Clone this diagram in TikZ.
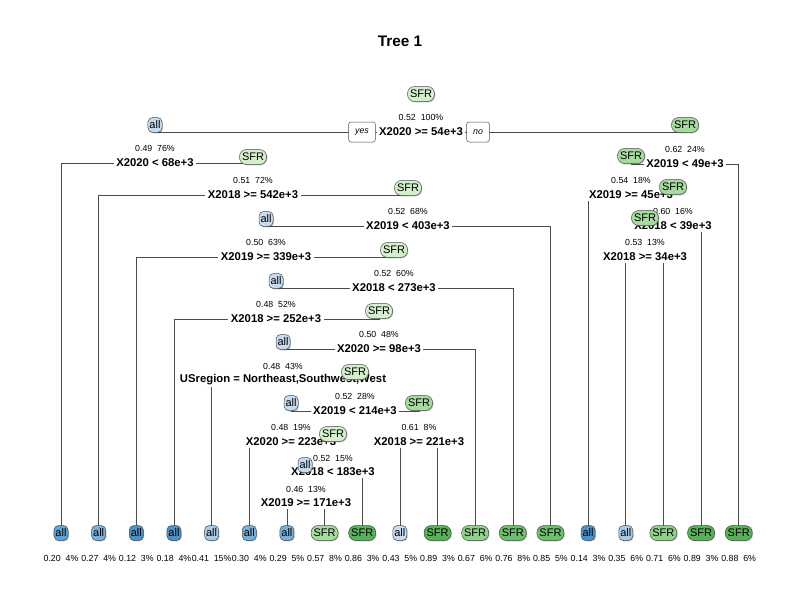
\documentclass[tikz,border=0pt]{standalone}
\usepackage{fontspec}
\setmainfont{Liberation Sans}
\usetikzlibrary{backgrounds,shadows}
\definecolor{bu1}{HTML}{C6DBEF}
\definecolor{bu2}{HTML}{A6CBE8}
\definecolor{bu3}{HTML}{75B1DC}
\definecolor{bu4}{HTML}{5FA3D4}
\definecolor{bu5}{HTML}{4A92C8}
\definecolor{gn1}{HTML}{D4EFCC}
\definecolor{gn2}{HTML}{A5DB9D}
\definecolor{gn3}{HTML}{8FD18A}
\definecolor{gn4}{HTML}{6DC06A}
\definecolor{gn5}{HTML}{55B355}
\begin{document}
\begin{tikzpicture}[x=1pt, y=-1pt,
    nodebox/.style={draw=black!70, line width=0.5pt, inner sep=1.5pt, minimum height=15pt,
      font=\fontsize{11}{11}\selectfont,
      drop shadow={shadow xshift=0.8pt, shadow yshift=-0.8pt, fill=black, opacity=0.25}},
    allbox/.style={nodebox, rounded corners=4.5pt, minimum width=14pt},
    sfrbox/.style={nodebox, rounded corners=7pt, minimum width=27pt},
    splitlab/.style={fill=white, inner xsep=2.5pt, inner ysep=2pt, font=\bfseries\fontsize{11.3}{12}\selectfont},
    infolab/.style={inner sep=1pt, font=\fontsize{8.8}{9}\selectfont},
    yesno/.style={draw=black!70, fill=white, line width=0.5pt, rounded corners=2.5pt,
      minimum height=20pt, inner xsep=6.5pt, font=\itshape\fontsize{8.8}{9}\selectfont},
    branch/.style={draw=black!70, line width=0.6pt}]
\useasboundingbox (0,0) rectangle (800,600);
\node[font=\bfseries\fontsize{15.3}{16}\selectfont] (title) at (400,41) {Tree 1};
% root
\node[splitlab] (Rs) at (421,132) {X2020 >= 54e+3};
\node[infolab] (Ri) at (421,117) {0.52\ \ 100\%};
\node[sfrbox, fill=gn1] (R) at (421,94) {SFR};
\node[yesno] (yes) at (362,132) {yes};
\node[yesno] (no) at (478,132) {no};
% left side
\node[splitlab] (As) at (155,163) {X2020 < 68e+3};
\node[infolab] (Ai) at (155,148) {0.49\ \ 76\%};
\node[allbox, fill=bu1] (A) at (155,125) {all};
\node[splitlab] (Bs) at (253,195) {X2018 >= 542e+3};
\node[infolab] (Bi) at (253,180) {0.51\ \ 72\%};
\node[sfrbox, fill=gn1] (B) at (253,157) {SFR};
\node[splitlab] (Cs) at (408,226) {X2019 < 403e+3};
\node[infolab] (Ci) at (408,211) {0.52\ \ 68\%};
\node[sfrbox, fill=gn1] (C) at (408,188) {SFR};
\node[splitlab] (Ds) at (266,257) {X2019 >= 339e+3};
\node[infolab] (Di) at (266,242) {0.50\ \ 63\%};
\node[allbox, fill=bu1] (D) at (266,219) {all};
\node[splitlab] (Es) at (394,288) {X2018 < 273e+3};
\node[infolab] (Ei) at (394,273) {0.52\ \ 60\%};
\node[sfrbox, fill=gn1] (E) at (394,250) {SFR};
\node[splitlab] (Fs) at (276,319) {X2018 >= 252e+3};
\node[infolab] (Fi) at (276,304) {0.48\ \ 52\%};
\node[allbox, fill=bu1] (F) at (276,281) {all};
\node[splitlab] (Gs) at (379,349) {X2020 >= 98e+3};
\node[infolab] (Gi) at (379,334) {0.50\ \ 48\%};
\node[sfrbox, fill=gn1] (G) at (379,311) {SFR};
\node[splitlab] (Hs) at (283,380) {USregion = Northeast,Southwest,West};
\node[infolab] (Hi) at (283,366) {0.48\ \ 43\%};
\node[allbox, fill=bu1] (H) at (283,342) {all};
\node[splitlab] (Is) at (355,411) {X2019 < 214e+3};
\node[infolab] (Ii) at (355,396) {0.52\ \ 28\%};
\node[sfrbox, fill=gn1] (I) at (355,372) {SFR};
\node[splitlab] (Ks) at (291,442) {X2020 >= 223e+3};
\node[infolab] (Ki) at (291,427) {0.48\ \ 19\%};
\node[allbox, fill=bu1] (K) at (291,403) {all};
\node[splitlab] (Ls) at (333,472) {X2018 < 183e+3};
\node[infolab] (Li) at (333,458) {0.52\ \ 15\%};
\node[sfrbox, fill=gn1] (L) at (333,434) {SFR};
\node[splitlab] (Ms) at (306,503) {X2019 >= 171e+3};
\node[infolab] (Mi) at (306,489) {0.46\ \ 13\%};
\node[allbox, fill=bu1] (M) at (305,465) {all};
\node[splitlab] (Js) at (419,442) {X2018 >= 221e+3};
\node[infolab] (Ji) at (419,427) {0.61\ \ 8\%};
\node[sfrbox, fill=gn2] (J) at (419,403) {SFR};
% right side
\node[splitlab] (Ns) at (685,164) {X2019 < 49e+3};
\node[infolab] (Ni) at (685,149) {0.62\ \ 24\%};
\node[sfrbox, fill=gn2] (N) at (685,125) {SFR};
\node[splitlab] (Os) at (631,195) {X2019 >= 45e+3};
\node[infolab] (Oi) at (631,180) {0.54\ \ 18\%};
\node[sfrbox, fill=gn2] (O) at (631,156) {SFR};
\node[splitlab] (Ps) at (673,226) {X2018 < 39e+3};
\node[infolab] (Pi) at (673,211) {0.60\ \ 16\%};
\node[sfrbox, fill=gn2] (P) at (673,187) {SFR};
\node[splitlab] (Qs) at (645,257) {X2018 >= 34e+3};
\node[infolab] (Qi) at (645,242) {0.53\ \ 13\%};
\node[sfrbox, fill=gn2] (Q) at (645,218) {SFR};
% leaves
\foreach \i/\f/\lab in {0/bu4/0.20\ \ 4\%, 1/bu3/0.27\ \ 4\%, 2/bu5/0.12\ \ 3\%,
    3/bu5/0.18\ \ 4\%, 4/bu2/0.41\ \ 15\%, 5/bu3/0.30\ \ 4\%, 6/bu3/0.29\ \ 5\%,
    9/bu1/0.43\ \ 5\%, 14/bu5/0.14\ \ 3\%, 15/bu2/0.35\ \ 6\%} {
  \node[allbox, fill=\f] (l\i) at ({61+37.65*\i},533) {all};
  \node[infolab] (p\i) at ({61+37.65*\i},558) {\lab};
}
\foreach \i/\f/\lab in {7/gn2/0.57\ \ 8\%, 8/gn5/0.86\ \ 3\%, 10/gn5/0.89\ \ 3\%,
    11/gn3/0.67\ \ 6\%, 12/gn4/0.76\ \ 8\%, 13/gn4/0.85\ \ 5\%, 16/gn3/0.71\ \ 6\%,
    17/gn5/0.89\ \ 3\%, 18/gn5/0.88\ \ 6\%} {
  \node[sfrbox, fill=\f] (l\i) at ({61+37.65*\i},533) {SFR};
  \node[infolab] (p\i) at ({61+37.65*\i},558) {\lab};
}
\begin{pgfonlayer}{background}
  \fill[white] (0,0) rectangle (800,600);
  \draw[branch] (Rs.center) -| (A.center);
  \draw[branch] (Rs.center) -| (N.center);
  \draw[branch] (As.center) -| (l0.center);
  \draw[branch] (As.center) -| (B.center);
  \draw[branch] (Bs.center) -| (l1.center);
  \draw[branch] (Bs.center) -| (C.center);
  \draw[branch] (Cs.center) -| (D.center);
  \draw[branch] (Cs.center) -| (l13.center);
  \draw[branch] (Ds.center) -| (l2.center);
  \draw[branch] (Ds.center) -| (E.center);
  \draw[branch] (Es.center) -| (F.center);
  \draw[branch] (Es.center) -| (l12.center);
  \draw[branch] (Fs.center) -| (l3.center);
  \draw[branch] (Fs.center) -| (G.center);
  \draw[branch] (Gs.center) -| (H.center);
  \draw[branch] (Gs.center) -| (l11.center);
  \draw[branch] (Hs.center) -| (l4.center);
  \draw[branch] (Hs.center) -| (I.center);
  \draw[branch] (Is.center) -| (K.center);
  \draw[branch] (Is.center) -| (J.center);
  \draw[branch] (Ks.center) -| (l5.center);
  \draw[branch] (Ks.center) -| (L.center);
  \draw[branch] (Ls.center) -| (M.center);
  \draw[branch] (Ls.center) -| (l8.center);
  \draw[branch] (Ms.center) -| (l6.center);
  \draw[branch] (Ms.center) -| (l7.center);
  \draw[branch] (Js.center) -| (l9.center);
  \draw[branch] (Js.center) -| (l10.center);
  \draw[branch] (Ns.center) -| (O.center);
  \draw[branch] (Ns.center) -| (l18.center);
  \draw[branch] (Os.center) -| (l14.center);
  \draw[branch] (Os.center) -| (P.center);
  \draw[branch] (Ps.center) -| (Q.center);
  \draw[branch] (Ps.center) -| (l17.center);
  \draw[branch] (Qs.center) -| (l15.center);
  \draw[branch] (Qs.center) -| (l16.center);
\end{pgfonlayer}
\end{tikzpicture}
\end{document}
